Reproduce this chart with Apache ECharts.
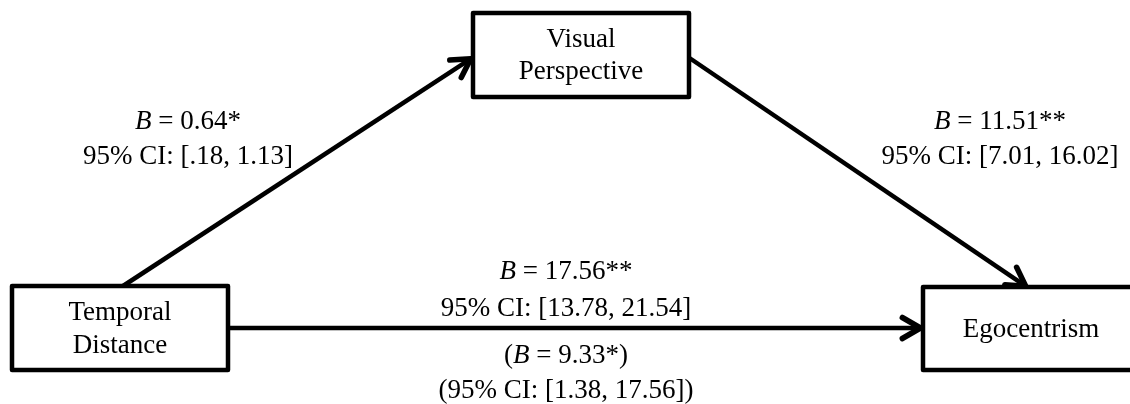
<!DOCTYPE html>
<html><head><meta charset="utf-8">
<script src="https://cdn.jsdelivr.net/npm/echarts@6/dist/echarts.min.js"></script>
<style>html,body{margin:0;padding:0;background:#fff}#c{width:1130px;height:404px}</style>
</head><body><div id="c"></div>
<script>
// ---- data ----
const nodeNames = ['Temporal Distance', 'Visual Perspective', 'Egocentrism'];
const nodeLines = [['Temporal', 'Distance'], ['Visual', 'Perspective'], ['Egocentrism']];
const edgeSource = [0, 1, 0];
const edgeTarget = [1, 2, 2];
const coefB = ['0.64*', '11.51**', '17.56**', '9.33*'];
const ciLow = ['.18', '7.01', '13.78', '1.38'];
const ciHigh = ['1.13', '16.02', '21.54', '17.56'];
const inParens = [false, false, false, true];

// ---- layout (value space of a 1130 x 404 hidden grid) ----
const boxRects = [[12, 286, 228, 370], [473, 13, 689, 97], [923, 287, 1145, 370]];
const boxLineY = [[313, 346], [40, 72], [330]];
const edgeEnds = [[[123, 286], [472, 58]], [[688, 57], [1027, 287]], [[228, 328], [922, 328]]];
const labelPos = [[188, 122, 157], [1000, 122, 157], [566, 272, 309], [566, 356, 391]];

const FONT = '"Liberation Serif", "Times New Roman", serif';
const FS = 27;
const rich = {
  i: { fontStyle: 'italic', fontFamily: FONT, fontSize: FS, fill: '#000' },
  n: { fontFamily: FONT, fontSize: FS, fill: '#000' }
};

const chart = echarts.init(document.getElementById('c'), null, { renderer: 'canvas' });

function txt(x, y, text, isRich) {
  return {
    type: 'text',
    style: Object.assign({
      x: x, y: y, text: text,
      fontFamily: FONT, fontSize: FS, fill: '#000',
      align: 'center', verticalAlign: 'middle'
    }, isRich ? { rich: rich } : {})
  };
}

chart.setOption({
  animation: false,
  backgroundColor: '#fff',
  grid: { left: 0, right: 0, top: 0, bottom: 0 },
  xAxis: { type: 'value', min: 0, max: 1130, show: false },
  yAxis: { type: 'value', min: 0, max: 404, inverse: true, show: false },
  series: [
    {
      type: 'custom',
      coordinateSystem: 'cartesian2d',
      data: edgeSource.map((s, i) => [s, edgeTarget[i]]),
      renderItem: function (params, api) {
        const e = edgeEnds[params.dataIndex];
        const p0 = api.coord(e[0]);
        const p1 = api.coord(e[1]);
        const ang = Math.atan2(p1[1] - p0[1], p1[0] - p0[0]);
        const L = 21, half = 30 * Math.PI / 180;
        const tip = [p1[0] - 1.5 * Math.cos(ang), p1[1] - 1.5 * Math.sin(ang)];
        const a1 = [tip[0] - L * Math.cos(ang - half), tip[1] - L * Math.sin(ang - half)];
        const a2 = [tip[0] - L * Math.cos(ang + half), tip[1] - L * Math.sin(ang + half)];
        const pe = [p1[0] - 3 * Math.cos(ang), p1[1] - 3 * Math.sin(ang)];
        return {
          type: 'group',
          children: [
            { type: 'line', shape: { x1: p0[0], y1: p0[1], x2: pe[0], y2: pe[1] },
              style: { stroke: '#000', lineWidth: 4.5 } },
            { type: 'polyline', shape: { points: [a1, tip, a2] },
              style: { stroke: '#000', lineWidth: 5.5, fill: null, lineJoin: 'round', lineCap: 'round' } }
          ]
        };
      }
    },
    {
      type: 'custom',
      coordinateSystem: 'cartesian2d',
      data: nodeNames.map((n, i) => [i]),
      renderItem: function (params, api) {
        const i = params.dataIndex;
        const r = boxRects[i];
        const a = api.coord([r[0], r[1]]);
        const b = api.coord([r[2], r[3]]);
        const cx = (a[0] + b[0]) / 2;
        const children = [{
          type: 'rect',
          shape: { x: a[0], y: a[1], width: b[0] - a[0], height: b[1] - a[1] },
          style: { fill: '#fff', stroke: '#000', lineWidth: 4.5, lineJoin: 'round' }
        }];
        const cxText = i === 2 ? api.coord([1031, 0])[0] : cx;
        nodeLines[i].forEach((t, k) => {
          children.push(txt(cxText, api.coord([0, boxLineY[i][k]])[1], t, false));
        });
        return { type: 'group', children: children };
      }
    },
    {
      type: 'custom',
      coordinateSystem: 'cartesian2d',
      data: coefB.map((b, i) => [i]),
      renderItem: function (params, api) {
        const i = params.dataIndex;
        const p = labelPos[i];
        const x = api.coord([p[0], 0])[0];
        const y1 = api.coord([0, p[1]])[1];
        const y2 = api.coord([0, p[2]])[1];
        const o = inParens[i] ? '(' : '', c = inParens[i] ? ')' : '';
        const l1 = '{n|' + o + '}{i|B}{n| = ' + coefB[i] + c + '}';
        const l2 = o + '95% CI: [' + ciLow[i] + ', ' + ciHigh[i] + ']' + c;
        return { type: 'group', children: [txt(x, y1, l1, true), txt(x, y2, l2, false)] };
      }
    }
  ]
});
</script>
</body></html>
